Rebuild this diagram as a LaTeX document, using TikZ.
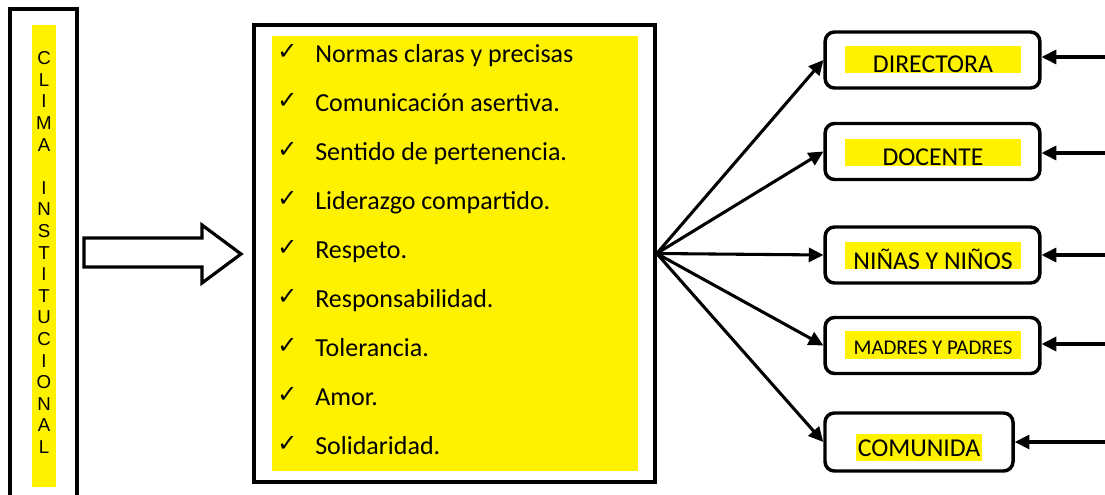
\documentclass[tikz,border=0pt]{standalone}
\usepackage{fontspec}
\setmainfont{Carlito}
\newfontfamily\arialfont{Liberation Sans}
\newfontfamily\symfont{DejaVu Sans}
\usetikzlibrary{arrows.meta}
\begin{document}
\begin{tikzpicture}[x=0.75pt,y=-0.75pt,line join=miter]
  \tikzstyle{frame}=[draw,line width=2.6pt,inner sep=0pt]
  \tikzstyle{role}=[draw,line width=2.6pt,rounded corners=7pt,minimum width=161pt,minimum height=42pt,inner sep=0pt]
  \tikzstyle{hl}=[fill=yellow,inner sep=0pt,minimum width=132pt,text height=20.25pt,text depth=0pt,anchor=base,font=\fontsize{19.3}{19}\selectfont]
  \tikzstyle{item}=[anchor=base west,inner sep=0pt,font=\fontsize{19.5}{20}\selectfont]
  \tikzstyle{tick}=[anchor=base west,inner sep=0pt,font=\symfont\fontsize{18}{18}\selectfont]
  \tikzstyle{link}=[line width=2.3pt,-{Triangle[length=11pt,width=10.5pt]}]
  \useasboundingbox (0,0) rectangle (1105,495);
  % left column
  \draw[frame] (10,9) rectangle (77,530);
  \fill[yellow] (32,25) rectangle (56,487);
  \node[align=center,inner sep=0pt,font=\arialfont\fontsize{14}{16.2}\selectfont] (clima) at (44,252.5)
    {C\\L\\I\\M\\A\\\mbox{}\\I\\N\\S\\T\\I\\T\\U\\C\\I\\O\\N\\A\\L};
  % block arrow
  \draw[line width=2.4pt] (84,238) -- (202,238) -- (202,225) -- (241,254) -- (202,283) -- (202,267) -- (84,267) -- cycle;
  % values
  \node[frame,minimum width=300.75pt,minimum height=342.75pt] (mid) at (454.5,253.5) {};
  \fill[yellow] (272,36) rectangle (638,471);
  \node[tick] (T_1) at (277,60)    {✓};
  \node[tick] (T_2) at (277,108.9) {✓};
  \node[tick] (T_3) at (277,157.8) {✓};
  \node[tick] (T_4) at (277,206.7) {✓};
  \node[tick] (T_5) at (277,255.6) {✓};
  \node[tick] (T_6) at (277,304.5) {✓};
  \node[tick] (T_7) at (277,353.4) {✓};
  \node[tick] (T_8) at (277,402.3) {✓};
  \node[tick] (T_9) at (277,451.2) {✓};
  \node[item] (L_1) at (315,63)    {Normas claras y precisas};
  \node[item] (L_2) at (315,111.9) {Comunicación asertiva.};
  \node[item] (L_3) at (315,160.8) {Sentido de pertenencia.};
  \node[item] (L_4) at (315,209.7) {Liderazgo compartido.};
  \node[item] (L_5) at (315,258.6) {Respeto.};
  \node[item] (L_6) at (315,307.5) {Responsabilidad.};
  \node[item] (L_7) at (315,356.4) {Tolerancia.};
  \node[item] (L_8) at (315,405.3) {Amor.};
  \node[item] (L_9) at (315,454.2) {Solidaridad.};
  % actors
  \node[role] (R_1) at (932.5,60)    {};
  \node[role] (R_2) at (932.5,151.5) {};
  \node[role] (R_3) at (932.5,255)   {};
  \node[role] (R_4) at (932.5,345.5) {};
  \node[role,minimum width=141pt,minimum height=43.5pt] (R_5) at (919,442) {};
  \node[hl] (H_1) at (933,73)  {DIRECTORA};
  \node[hl] (H_2) at (933,166) {DOCENTE};
  \node[hl] (H_3) at (933,269) {NIÑAS Y NIÑOS};
  \node[hl,text height=17.25pt,text depth=3.75pt,font=\fontsize{15.7}{16}\selectfont] (H_4) at (933,354) {MADRES Y PADRES};
  \node[hl,minimum width=0pt,inner xsep=1pt,text height=16.5pt,text depth=3.75pt] (H_5) at (919,456) {COMUNIDA};
  \draw[link] (mid.east) -- (R_1.west);
  \draw[link] (mid.east) -- (R_2.west);
  \draw[link] (mid.east) -- (R_3.west);
  \draw[link] (mid.east) -- (R_4.west);
  \draw[link] (mid.east) -- (R_5.west);
  \coordinate (S_1) at (1120,57);
  \coordinate (S_2) at (1120,153);
  \coordinate (S_3) at (1120,255);
  \coordinate (S_4) at (1120,344);
  \coordinate (S_5) at (1120,442);
  \draw[link] (S_1) -- (S_1 -| R_1.east);
  \draw[link] (S_2) -- (S_2 -| R_2.east);
  \draw[link] (S_3) -- (S_3 -| R_3.east);
  \draw[link] (S_4) -- (S_4 -| R_4.east);
  \draw[link] (S_5) -- (S_5 -| R_5.east);
\end{tikzpicture}
\end{document}
